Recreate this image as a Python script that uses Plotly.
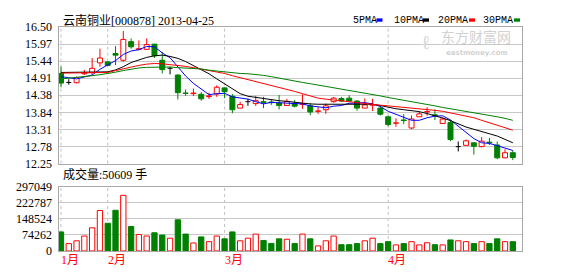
import plotly.graph_objects as go

# ---------------- data ----------------
dates = ["2013-01-24", "2013-01-25", "2013-01-28", "2013-01-29", "2013-01-30", "2013-01-31",
         "2013-02-01", "2013-02-04", "2013-02-05", "2013-02-06", "2013-02-07", "2013-02-08",
         "2013-02-18", "2013-02-19", "2013-02-20", "2013-02-21", "2013-02-22", "2013-02-25",
         "2013-02-26", "2013-02-27", "2013-02-28",
         "2013-03-01", "2013-03-04", "2013-03-05", "2013-03-06", "2013-03-07", "2013-03-08",
         "2013-03-11", "2013-03-12", "2013-03-13", "2013-03-14", "2013-03-15", "2013-03-18",
         "2013-03-19", "2013-03-20", "2013-03-21", "2013-03-22", "2013-03-25", "2013-03-26",
         "2013-03-27", "2013-03-28", "2013-03-29",
         "2013-04-01", "2013-04-02", "2013-04-03", "2013-04-08", "2013-04-09", "2013-04-10",
         "2013-04-11", "2013-04-12", "2013-04-15", "2013-04-16", "2013-04-17", "2013-04-18",
         "2013-04-19", "2013-04-22", "2013-04-23", "2013-04-24", "2013-04-25"]

opens = [15.06, 14.78, 14.77, 15.05, 15.09, 15.39, 15.42, 15.68, 15.47, 16.05,
         15.81, 15.81, 15.97, 15.47, 15.22, 15.01, 14.45, 14.43, 14.41, 14.34,
         14.42, 14.61, 14.35, 13.98, 14.18, 14.12, 14.18, 14.17, 14.14, 14.06,
         14.13, 14.10, 14.05, 13.88, 13.93, 14.18, 14.28, 14.29, 14.20, 13.98,
         14.07, 13.98, 13.71, 13.51, 13.61, 13.36, 13.71, 13.86, 13.77, 13.50,
         13.53, 12.78, 12.82, 12.90, 12.78, 12.92, 12.83, 12.43, 12.59]
highs = [15.27, 14.88, 14.96, 15.17, 15.54, 15.83, 15.44, 15.91, 16.38, 16.15,
         16.09, 16.15, 15.99, 15.73, 15.27, 15.03, 14.56, 14.59, 14.48, 14.46,
         14.69, 14.63, 14.42, 14.18, 14.27, 14.36, 14.33, 14.24, 14.39, 14.27,
         14.23, 14.41, 14.14, 14.01, 14.12, 14.33, 14.33, 14.38, 14.23, 14.28,
         14.27, 14.06, 13.75, 13.66, 13.79, 13.75, 13.87, 14.01, 13.94, 13.69,
         13.61, 12.94, 13.00, 12.90, 13.08, 13.05, 12.94, 12.70, 12.66]
lows = [14.63, 14.71, 14.75, 15.01, 15.02, 15.27, 15.29, 15.32, 15.42, 15.83,
        15.78, 15.80, 15.54, 15.06, 15.03, 14.25, 14.36, 14.36, 14.21, 14.27,
        14.33, 14.29, 13.82, 13.97, 14.05, 14.05, 13.98, 14.08, 13.94, 14.06,
        14.00, 13.96, 13.76, 13.80, 13.80, 14.15, 14.18, 14.20, 13.90, 13.98,
        13.89, 13.75, 13.41, 13.40, 13.48, 13.32, 13.71, 13.74, 13.61, 13.50,
        12.95, 12.63, 12.82, 12.53, 12.76, 12.83, 12.39, 12.42, 12.36]
closes = [14.76, 14.78, 14.93, 15.08, 15.22, 15.54, 15.31, 15.63, 16.12, 15.89,
          15.83, 15.96, 15.61, 15.18, 15.22, 14.46, 14.44, 14.45, 14.27, 14.36,
          14.63, 14.49, 13.93, 14.09, 14.18, 14.21, 14.15, 14.15, 14.06, 14.19,
          14.04, 14.11, 13.86, 13.89, 14.05, 14.29, 14.20, 14.20, 13.98, 14.08,
          14.09, 13.79, 13.47, 13.52, 13.59, 13.64, 13.80, 13.87, 13.75, 13.64,
          13.00, 12.78, 12.96, 12.79, 12.95, 12.90, 12.43, 12.59, 12.44]

ma5 = [14.96, 14.92, 14.89, 14.95, 15.01, 15.19, 15.32, 15.46, 15.65, 15.76,
       15.80, 15.90, 15.89, 15.70, 15.55, 15.28, 14.98, 14.75, 14.57, 14.40,
       14.43, 14.44, 14.33, 14.30, 14.26, 14.18, 14.11, 14.16, 14.15, 14.15,
       14.12, 14.11, 14.05, 14.02, 13.99, 14.04, 14.06, 14.13, 14.14, 14.15,
       14.11, 14.03, 13.88, 13.79, 13.69, 13.60, 13.60, 13.68, 13.73, 13.74,
       13.61, 13.41, 13.23, 13.03, 12.90, 12.88, 12.81, 12.73, 12.66]
ma10 = [15.09, 15.09, 15.09, 15.10, 15.10, 15.10, 15.11, 15.17, 15.27, 15.40,
        15.48, 15.56, 15.61, 15.63, 15.59, 15.53, 15.43, 15.30, 15.17, 15.05,
        14.89, 14.74, 14.57, 14.43, 14.35, 14.31, 14.27, 14.24, 14.21, 14.19,
        14.16, 14.13, 14.11, 14.10, 14.10, 14.10, 14.10, 14.11, 14.12, 14.12,
        14.10, 14.06, 14.00, 13.96, 13.93, 13.90, 13.87, 13.81, 13.75, 13.67,
        13.59, 13.49, 13.39, 13.32, 13.26, 13.18, 13.11, 13.00, 12.90]
ma20 = [15.07, 15.07, 15.07, 15.07, 15.08, 15.08, 15.09, 15.15, 15.21, 15.27,
        15.31, 15.35, 15.37, 15.36, 15.34, 15.31, 15.28, 15.24, 15.20, 15.16,
        15.12, 15.06, 14.99, 14.93, 14.87, 14.81, 14.75, 14.69, 14.64, 14.58,
        14.50, 14.43, 14.35, 14.29, 14.26, 14.23, 14.20, 14.17, 14.15, 14.12,
        14.10, 14.07, 14.05, 14.03, 14.01, 13.99, 13.97, 13.94, 13.91, 13.88,
        13.83, 13.77, 13.72, 13.68, 13.60, 13.53, 13.45, 13.37, 13.29]
ma30 = [14.89, 14.91, 14.94, 14.96, 14.99, 15.02, 15.05, 15.10, 15.15, 15.20,
        15.23, 15.25, 15.26, 15.27, 15.26, 15.24, 15.23, 15.22, 15.20, 15.16,
        15.13, 15.10, 15.08, 15.06, 15.05, 15.03, 15.00, 14.96, 14.91, 14.86,
        14.82, 14.78, 14.74, 14.70, 14.66, 14.61, 14.57, 14.53, 14.49, 14.45,
        14.42, 14.36, 14.31, 14.27, 14.23, 14.18, 14.13, 14.09, 14.05, 14.00,
        13.96, 13.93, 13.89, 13.85, 13.80, 13.76, 13.71, 13.66, 13.60]

volumes = [88000, 34000, 47000, 69000, 107000, 187000, 128000, 188000, 257000, 113000,
           76000, 69000, 84000, 73500, 59000, 144000, 78000, 37000, 65000, 43000,
           69000, 56000, 88000, 47000, 59000, 78000, 48500, 35000, 56000, 54000,
           34000, 78000, 56000, 23500, 47000, 69000, 29000, 29000, 34000, 47000,
           59000, 34000, 43000, 28000, 34000, 43000, 28000, 38000, 29000, 28000,
           51000, 47000, 43000, 34000, 43000, 34000, 56000, 43000, 43000]

price_ticks = ["16.50", "15.97", "15.44", "14.91", "14.38", "13.84", "13.31", "12.78", "12.25"]
vol_ticks = ["297049", "222787", "148524", "74262", "0"]

title_text = "云南铜业[000878] 2013-04-25"
vol_text = "成交量:50609 手"
ma_names = ["5PMA", "10PMA", "20PMA", "30PMA"]

# ---------------- styles ----------------
RED = "#ff0000"
GREEN = "#008000"
BLUE = "#0000ff"
BLACK = "#000000"
GRID = "#c8c8c8"
BORDER = "#a8a8a8"
ma_colors = [BLUE, BLACK, RED, GREEN]
BODY_W = 0.64
VOL_W = 0.68
FONT = "Liberation Serif, Noto Sans CJK SC, sans-serif"

n = len(closes)
xs = list(range(n))

fig = go.Figure()

# wicks (split above / below body so hollow bodies stay empty)
wick = {RED: ([], []), GREEN: ([], []), BLACK: ([], [])}
up_x, up_b, up_h = [], [], []
dn_x, dn_b, dn_h = [], [], []
dj_x, dj_y = [], []
for i in xs:
    o, h, l, c = opens[i], highs[i], lows[i], closes[i]
    if c > o:
        col = RED
        up_x.append(i); up_b.append(o); up_h.append(max(c - o, 0.008))
    elif c < o:
        col = GREEN
        dn_x.append(i); dn_b.append(c); dn_h.append(max(o - c, 0.008))
    else:
        col = BLACK
        dj_x += [i - BODY_W / 2, i + BODY_W / 2, None]
        dj_y += [o, o, None]
    top, bot = max(o, c), min(o, c)
    wx, wy = wick[col]
    wx += [i, i, None, i, i, None]
    wy += [h, top, None, bot, l, None]

for col, (wx, wy) in wick.items():
    fig.add_trace(go.Scatter(x=wx, y=wy, mode="lines", line=dict(color=col, width=1),
                             xaxis="x", yaxis="y", hoverinfo="skip"))

fig.add_trace(go.Bar(x=up_x, y=up_h, base=up_b, width=BODY_W,
                     marker=dict(color="white", line=dict(color=RED, width=1)),
                     xaxis="x", yaxis="y"))
fig.add_trace(go.Bar(x=dn_x, y=dn_h, base=dn_b, width=BODY_W,
                     marker=dict(color=GREEN, line=dict(color=GREEN, width=1)),
                     xaxis="x", yaxis="y"))
fig.add_trace(go.Scatter(x=dj_x, y=dj_y, mode="lines", line=dict(color=BLACK, width=1),
                         xaxis="x", yaxis="y"))

for ma, col in zip([ma5, ma10, ma20, ma30], ma_colors):
    fig.add_trace(go.Scatter(x=xs, y=ma, mode="lines", line=dict(color=col, width=1),
                             xaxis="x", yaxis="y"))

# volume
vu_x = [i for i in xs if closes[i] >= opens[i]]
vd_x = [i for i in xs if closes[i] < opens[i]]
fig.add_trace(go.Bar(x=vu_x, y=[volumes[i] for i in vu_x], width=VOL_W,
                     marker=dict(color="white", line=dict(color=RED, width=1)),
                     xaxis="x2", yaxis="y2"))
fig.add_trace(go.Bar(x=vd_x, y=[volumes[i] for i in vd_x], width=VOL_W,
                     marker=dict(color=GREEN, line=dict(color=GREEN, width=1)),
                     xaxis="x2", yaxis="y2"))

# month boundaries
month_idx = [i for i in xs if i == 0 or dates[i][5:7] != dates[i - 1][5:7]]
shapes = []
annotations = []
for i in month_idx:
    for xr, yr in (("x", "y domain"), ("x2", "y2 domain")):
        shapes.append(dict(type="line", xref=xr, yref=yr, x0=i, x1=i, y0=0, y1=1,
                           line=dict(color="#c0c0c0", width=1, dash="3px,3px"), layer="below"))
    annotations.append(dict(x=i, xref="x2", y=0.036, yref="paper", xanchor="left", yanchor="middle",
                            xshift=-2, text=f"{int(dates[i][5:7])}月", showarrow=False,
                            font=dict(family=FONT, size=12, color=RED)))

W, H = 578, 276
px = lambda v: v / W
py = lambda v: (H - v) / H

annotations.append(dict(x=px(61), y=py(14), xref="paper", yref="paper", xanchor="left",
                        yanchor="middle", text=title_text, showarrow=False,
                        font=dict(family=FONT, size=12, color=BLACK)))
annotations.append(dict(x=px(61), y=py(176), xref="paper", yref="paper", xanchor="left",
                        yanchor="middle", text=vol_text, showarrow=False,
                        font=dict(family=FONT, size=12, color=BLACK)))

leg_text_x = [351, 392, 436, 481]
leg_rect_x = [376.5, 423, 469, 514]
for name, col, tx, rx in zip(ma_names, ma_colors, leg_text_x, leg_rect_x):
    annotations.append(dict(x=px(tx), y=py(14), xref="paper", yref="paper", xanchor="left",
                            yanchor="middle", text=name, showarrow=False,
                            font=dict(family="Liberation Mono", size=10, color=BLACK)))
    shapes.append(dict(type="rect", xref="paper", yref="paper", x0=px(rx), x1=px(rx + 6),
                       y0=py(15.5), y1=py(12), fillcolor=col, line=dict(width=0)))

# watermark (logo mark + name), faint grey
annotations.append(dict(x=px(440), y=py(42.5), xref="paper", yref="paper", xanchor="left",
                        yanchor="bottom", text="东方财富网", showarrow=False, borderpad=0,
                        font=dict(family="Noto Sans CJK SC", size=14, color="#d2d2d2")))
annotations.append(dict(x=px(445), y=py(43.5), xref="paper", yref="paper", xanchor="left",
                        yanchor="top", text="<b>eastmoney.com</b>", showarrow=False, borderpad=0,
                        font=dict(family="DejaVu Sans", size=7, color="#d2d2d2")))
annotations.append(dict(x=px(421), y=py(37), xref="paper", yref="paper", xanchor="left",
                        yanchor="middle", text="<b>ℓ</b>", showarrow=False, borderpad=0,
                        font=dict(family="DejaVu Serif", size=20, color="#dadada")))

x_dom = [58.5 / W, 522.3 / W]
x_rng = [-0.32, 59.22]
axis_common = dict(showline=True, mirror=True, linecolor=BORDER, linewidth=1, zeroline=False)

fig.update_layout(
    width=W, height=H, margin=dict(l=0, r=0, t=0, b=0),
    paper_bgcolor="white", plot_bgcolor="white", showlegend=False,
    barmode="overlay",
    xaxis=dict(domain=x_dom, range=x_rng, showgrid=False, showticklabels=False,
               anchor="y", **axis_common),
    yaxis=dict(domain=[py(165), py(21.3)], range=[12.25, 16.50],
               tickvals=[float(t) for t in price_ticks], ticktext=price_ticks,
               showgrid=True, gridcolor=GRID, gridwidth=1, ticks="", ticklabelstandoff=3,
               tickfont=dict(family=FONT, size=12, color=BLACK), anchor="x", **axis_common),
    xaxis2=dict(domain=x_dom, range=x_rng, showgrid=False, showticklabels=False,
                anchor="y2", **axis_common),
    yaxis2=dict(domain=[py(257), py(189.3)], range=[0, float(vol_ticks[0])],
                tickvals=[float(t) for t in vol_ticks], ticktext=vol_ticks,
                showgrid=True, gridcolor=GRID, gridwidth=1, ticks="", ticklabelstandoff=3,
                tickfont=dict(family=FONT, size=12, color=BLACK), anchor="x2", **axis_common),
    shapes=shapes, annotations=annotations,
)

fig.write_html("out.html")
